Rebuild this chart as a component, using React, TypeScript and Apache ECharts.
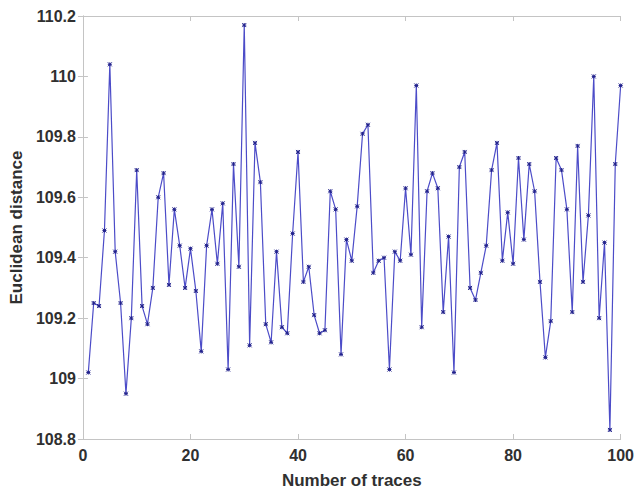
import React, { useEffect, useRef } from "react";
import * as echarts from "echarts";

const xValues: number[] = Array.from({ length: 100 }, (_, i) => i + 1);
const distances: number[] = [
  109.02, 109.25, 109.24, 109.49, 110.04, 109.42, 109.25, 108.95, 109.2, 109.69,
  109.24, 109.18, 109.3, 109.6, 109.68, 109.31, 109.56, 109.44, 109.3, 109.43,
  109.29, 109.09, 109.44, 109.56, 109.38, 109.58, 109.03, 109.71, 109.37, 110.17,
  109.11, 109.78, 109.65, 109.18, 109.12, 109.42, 109.17, 109.15, 109.48, 109.75,
  109.32, 109.37, 109.21, 109.15, 109.16, 109.62, 109.56, 109.08, 109.46, 109.39,
  109.57, 109.81, 109.84, 109.35, 109.39, 109.4, 109.03, 109.42, 109.39, 109.63,
  109.41, 109.97, 109.17, 109.62, 109.68, 109.63, 109.22, 109.47, 109.02, 109.7,
  109.75, 109.3, 109.26, 109.35, 109.44, 109.69, 109.78, 109.39, 109.55, 109.38,
  109.73, 109.46, 109.71, 109.62, 109.32, 109.07, 109.19, 109.73, 109.69, 109.56,
  109.22, 109.77, 109.32, 109.54, 110.0, 109.2, 109.45, 108.83, 109.71, 109.97,
];
const xTitle = "Number of traces";
const yTitle = "Euclidean distance";

const FONT = "'Liberation Sans', Arial, sans-serif";
const AXIS_GRAY = "#c4c4c4";
const LABEL = "#303030";

export default function App() {
  const ref = useRef<HTMLDivElement>(null);
  useEffect(() => {
    if (!ref.current) return;
    const chart = echarts.init(ref.current, undefined, { renderer: "svg" });
    const pts = xValues.map((x, i) => [x, distances[i]]);
    const baseX = {
      type: "value" as const,
      min: 0,
      max: 100,
      interval: 20,
      axisLine: { show: true, lineStyle: { color: AXIS_GRAY, width: 1 } },
      axisTick: { show: true, inside: true, length: 5, lineStyle: { color: AXIS_GRAY } },
      splitLine: { show: false },
    };
    const baseY = {
      type: "value" as const,
      min: 108.8,
      max: 110.2,
      interval: 0.2,
      axisLine: { show: true, lineStyle: { color: AXIS_GRAY, width: 1 } },
      axisTick: { show: true, inside: true, length: 5, lineStyle: { color: AXIS_GRAY } },
      splitLine: { show: false },
    };
    chart.setOption({
      animation: false,
      grid: { left: 80, right: 15, top: 16, bottom: 50, containLabel: false },
      xAxis: [
        {
          ...baseX,
          position: "bottom",
          name: xTitle,
          nameLocation: "middle",
          nameGap: 33,
          nameTextStyle: { fontFamily: FONT, fontWeight: "bold", fontSize: 17, color: LABEL },
          axisLabel: {
            fontFamily: FONT,
            fontWeight: "bold",
            fontSize: 16,
            color: LABEL,
            margin: 8,
            showMaxLabel: true,
            hideOverlap: false,
          },
        },
        { ...baseX, position: "top", axisLabel: { show: false } },
      ],
      yAxis: [
        {
          ...baseY,
          position: "left",
          name: yTitle,
          nameLocation: "middle",
          nameGap: 54,
          nameTextStyle: { fontFamily: FONT, fontWeight: "bold", fontSize: 17, color: LABEL },
          axisLabel: {
            fontFamily: FONT,
            fontWeight: "bold",
            fontSize: 16,
            color: LABEL,
            margin: 7,
            formatter: (v: number) => String(Number(v.toFixed(1))),
          },
        },
        { ...baseY, position: "right", axisLabel: { show: false } },
      ],
      series: [
        {
          type: "line",
          data: pts,
          xAxisIndex: 0,
          yAxisIndex: 0,
          symbol: "path://M0,0L4,4M4,0L0,4M2,0L2,4M0,2L4,2",
          symbolSize: 4,
          showSymbol: true,
          lineStyle: { color: "#4c4cc8", width: 1.2 },
          itemStyle: { color: "#22228c", borderColor: "#22228c", borderWidth: 1 },
        },
      ],
    });
    return () => chart.dispose();
  }, []);
  return (
    <div
      ref={ref}
      style={{ position: "absolute", left: 0, top: 0, width: 637, height: 494 }}
    />
  );
}
